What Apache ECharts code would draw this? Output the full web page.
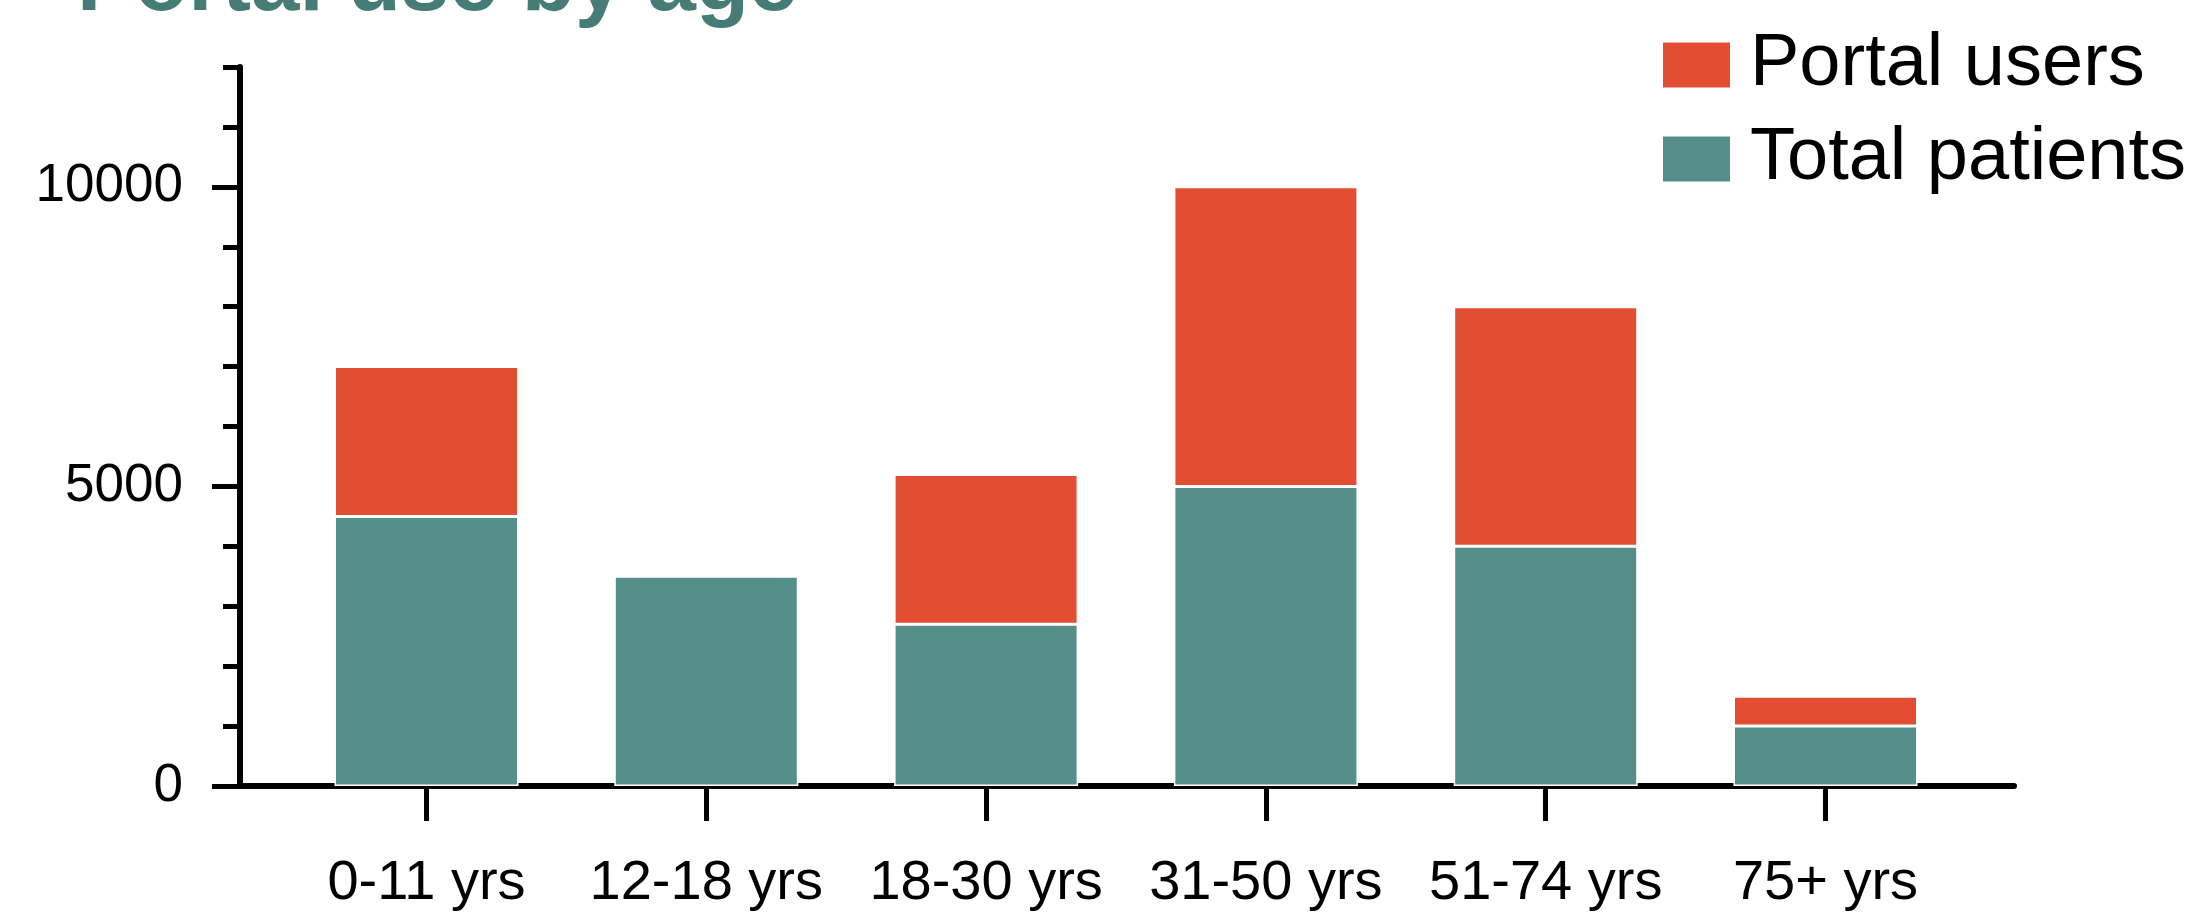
<!DOCTYPE html>
<html>
<head>
<meta charset="utf-8">
<script src="https://cdn.jsdelivr.net/npm/echarts@6/dist/echarts.min.js"></script>
<style>
html,body{margin:0;padding:0;background:#fff;}
#chart{width:2207px;height:914px;}
</style>
</head>
<body>
<div id="chart"></div>
<script>
var titleText = 'Portal use by age';
var categories = ['0-11 yrs', '12-18 yrs', '18-30 yrs', '31-50 yrs', '51-74 yrs', '75+ yrs'];
var totalPatients = [4500, 3500, 2700, 5000, 4000, 1000];
var portalUsers = [2500, 0, 2500, 5000, 4000, 500];
var yLabelValues = [0, 5000, 10000];
var seriesNames = ['Portal users', 'Total patients'];

var RED = '#E34E33', TEAL = '#568E8A', TITLE = '#467B76';
var SANS = "'Liberation Sans',Arial,Helvetica,sans-serif";

var chart = echarts.init(document.getElementById('chart'), null, {renderer: 'canvas'});
var option = {
  backgroundColor: '#fff',
  animation: false,
  title: {
    text: titleText,
    left: 72,
    top: -62,
    textStyle: {color: TITLE, fontSize: 87, fontWeight: 'bold', fontFamily: SANS}
  },
  legend: {
    orient: 'vertical',
    left: 1661,
    top: 28,
    padding: 0,
    itemWidth: 69,
    itemHeight: 47,
    itemGap: 20,
    icon: 'rect',
    data: seriesNames,
    textStyle: {color: '#000', fontSize: 74, fontFamily: SANS, padding: [0, 0, 0, 14]}
  },
  grid: [
    {left: 286.6, right: 241.6, top: 67, bottom: 128},
    {left: 240, right: 193, top: 67, bottom: 128}
  ],
  xAxis: [
    {
      type: 'category', gridIndex: 0, data: categories,
      axisLine: {show: false},
      axisTick: {show: true, alignWithLabel: true, length: 35, lineStyle: {color: '#000', width: 5}},
      axisLabel: {color: '#000', fontSize: 56, fontFamily: SANS, margin: 70, interval: 0}
    },
    {
      type: 'value', gridIndex: 1, min: 0, max: 1,
      axisLine: {show: true, lineStyle: {color: '#000', width: 6}},
      axisTick: {show: false}, axisLabel: {show: false}, splitLine: {show: false}
    }
  ],
  yAxis: [
    {
      type: 'value', gridIndex: 0, min: 0, max: 12000,
      axisLine: {show: false}, axisTick: {show: false}, axisLabel: {show: false}, splitLine: {show: false}
    },
    {
      type: 'value', gridIndex: 1, position: 'left', min: 0, max: 12000, interval: 1000,
      axisLine: {show: true, onZero: false, lineStyle: {color: '#000', width: 6}},
      axisTick: {show: true, inside: false, length: 17, lineStyle: {color: '#000', width: 5}},
      axisLabel: {
        show: true, customValues: yLabelValues, color: '#000', fontSize: 53, fontFamily: SANS, margin: 57,
        formatter: function (v) { return String(v); }
      },
      splitLine: {show: false}
    },
    {
      type: 'value', gridIndex: 1, position: 'left', offset: 0, min: 0, max: 12000, interval: 1000,
      axisLine: {show: false, onZero: false},
      axisTick: {show: true, inside: false, customValues: yLabelValues, length: 28, lineStyle: {color: '#000', width: 5}},
      axisLabel: {show: false},
      splitLine: {show: false}
    }
  ],
  series: [
    {
      name: seriesNames[1], type: 'bar', stack: 'a', xAxisIndex: 0, yAxisIndex: 0,
      data: totalPatients, barWidth: 184,
      itemStyle: {color: TEAL, borderColor: '#fff', borderWidth: 1.5}
    },
    {
      name: seriesNames[0], type: 'bar', stack: 'a', xAxisIndex: 0, yAxisIndex: 0,
      data: portalUsers, barWidth: 184,
      itemStyle: {color: RED, borderColor: '#fff', borderWidth: 1.5}
    }
  ]
};
chart.setOption(option);
</script>
</body>
</html>
